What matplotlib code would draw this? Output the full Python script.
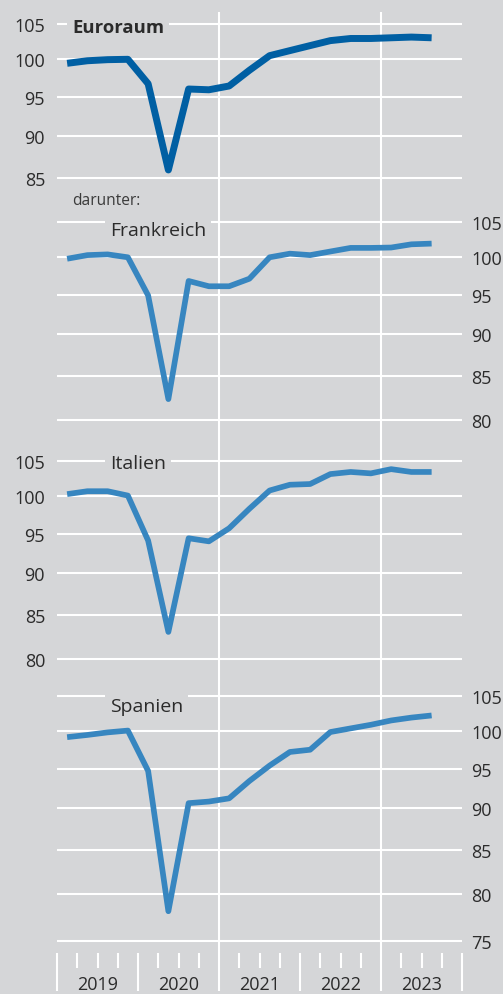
import numpy as np
import pandas as pd
import matplotlib
matplotlib.use("Agg")
import matplotlib.pyplot as plt
from matplotlib.ticker import FixedLocator, FixedFormatter, NullLocator
from matplotlib.transforms import blended_transform_factory

plt.rcParams['font.family'] = ['Open Sans', 'DejaVu Sans']

# quarterly GDP-like index, 2019Q4 = 100 (log scale)
quarters = pd.period_range("2019Q1", "2023Q3", freq="Q")
euroraum = [99.45, 99.8, 99.95, 100.0, 96.7, 85.9, 96.0, 95.9, 96.4, 98.5,
            100.5, 101.2, 101.9, 102.6, 102.9, 102.9, 103.0, 103.1, 103.0]
frankreich = [99.8, 100.3, 100.4, 100.0, 94.9, 82.3, 96.8, 96.1, 96.1, 97.1,
              100.0, 100.5, 100.3, 100.8, 101.3, 101.3, 101.35, 101.8, 101.9]
italien = [100.3, 100.7, 100.7, 100.1, 94.1, 83.0, 94.4, 94.0, 95.7, 98.3,
           100.8, 101.6, 101.7, 103.1, 103.4, 103.2, 103.8, 103.4, 103.4]
spanien = [99.2, 99.5, 99.85, 100.1, 94.7, 78.1, 90.6, 90.8, 91.2, 93.4,
           95.4, 97.2, 97.5, 99.9, 100.4, 100.9, 101.5, 101.9, 102.2]

names = ["Euroraum", "Frankreich", "Italien", "Spanien"]
ticks_1 = [85, 90, 95, 100, 105]
ticks_2 = [80, 85, 90, 95, 100, 105]
ticks_4 = [75, 80, 85, 90, 95, 100, 105]
years = [2019, 2020, 2021, 2022, 2023]

BG = "#d5d6d8"
TXT = "#2b2b2b"
DARK = "#005fa3"
LIGHT = "#3786c0"

W, H = 503, 995
K = 728.0  # pixels per ln unit, same for all panels

fig = plt.figure(figsize=(W / 100, H / 100), dpi=100, facecolor=BG)

x = np.array([p.year + (p.quarter - 0.5) / 4 for p in quarters])

# (values, ticks, side, colour, width, top px, bottom px, px of 100)
panels = [
    (euroraum, ticks_1, "left", DARK, 5.0, 13, 200, 60.3),
    (frankreich, ticks_2, "right", LIGHT, 4.1, 200, 440, 258.3),
    (italien, ticks_2, "left", LIGHT, 4.1, 440, 678, 497.3),
    (spanien, ticks_4, "right", LIGHT, 4.1, 678, 954, 732.3),
]

axes = []
for vals, ticks, side, col, lw, top, bot, y100 in panels:
    ax = fig.add_axes([57 / W, 1 - bot / H, (462 - 57) / W, (bot - top) / H])
    ax.set_facecolor(BG)
    ax.set_yscale("log")
    hi = 100 * np.exp((y100 - top) / K)
    lo = 100 * np.exp(-(bot - y100) / K)
    ax.set_ylim(lo, hi)
    ax.set_xlim(2019, 2024)
    ax.yaxis.set_major_locator(FixedLocator(ticks))
    ax.yaxis.set_major_formatter(FixedFormatter([str(t) for t in ticks]))
    ax.yaxis.set_minor_locator(NullLocator())
    ax.grid(axis="y", color="white", linewidth=1.5)
    ax.set_axisbelow(True)
    for xv in (2021, 2023):
        ax.axvline(xv, color="white", linewidth=1.5, zorder=0.6)
    for s in ax.spines.values():
        s.set_visible(False)
    if side == "right":
        ax.yaxis.tick_right()
        ax.tick_params(axis="y", length=0, pad=6.5, labelsize=13, labelcolor=TXT)
    else:
        ax.tick_params(axis="y", length=0, pad=8.6, labelsize=13, labelcolor=TXT)
    ax.plot(x, vals, color=col, linewidth=lw, solid_joinstyle="round",
            solid_capstyle="butt", zorder=3)
    ax.set_xticks([])
    axes.append(ax)

# quarter / year ticks on the bottom panel
ax4 = axes[-1]
ax4.set_xticks(np.arange(2019, 2025))
ax4.set_xticks(np.arange(2019, 2024, 0.25), minor=True)
ax4.tick_params(axis="x", which="major", direction="out", length=27.4, width=1.5,
                color="white", labelbottom=False)
ax4.tick_params(axis="x", which="minor", direction="out", length=10.8, width=1.5,
                color="white", labelbottom=False)
tr = blended_transform_factory(ax4.transData, fig.transFigure)
for yr in years:
    ax4.text(yr + 0.5, 1 - 985 / H, str(yr), transform=tr, ha="center", va="center",
             fontsize=13, color=TXT)

# panel titles
box = dict(boxstyle="square,pad=0.25", facecolor=BG, edgecolor="none")
fig.text(72 / W, 1 - 33.3 / H, names[0], fontsize=13.3, fontweight="bold",
         color=TXT, va="baseline", bbox=box)
fig.text(72 / W, 1 - 205 / H, "darunter:", fontsize=11.2, color="#3a3a3a",
         va="baseline")
fig.text(110 / W, 1 - 235.7 / H, names[1], fontsize=14, color=TXT,
         va="baseline", bbox=box)
fig.text(110 / W, 1 - 469.3 / H, names[2], fontsize=14, color=TXT,
         va="baseline", bbox=box)
fig.text(110 / W, 1 - 712 / H, names[3], fontsize=14, color=TXT,
         va="baseline", bbox=box)

fig.savefig("out.png", dpi=100, facecolor=BG)
